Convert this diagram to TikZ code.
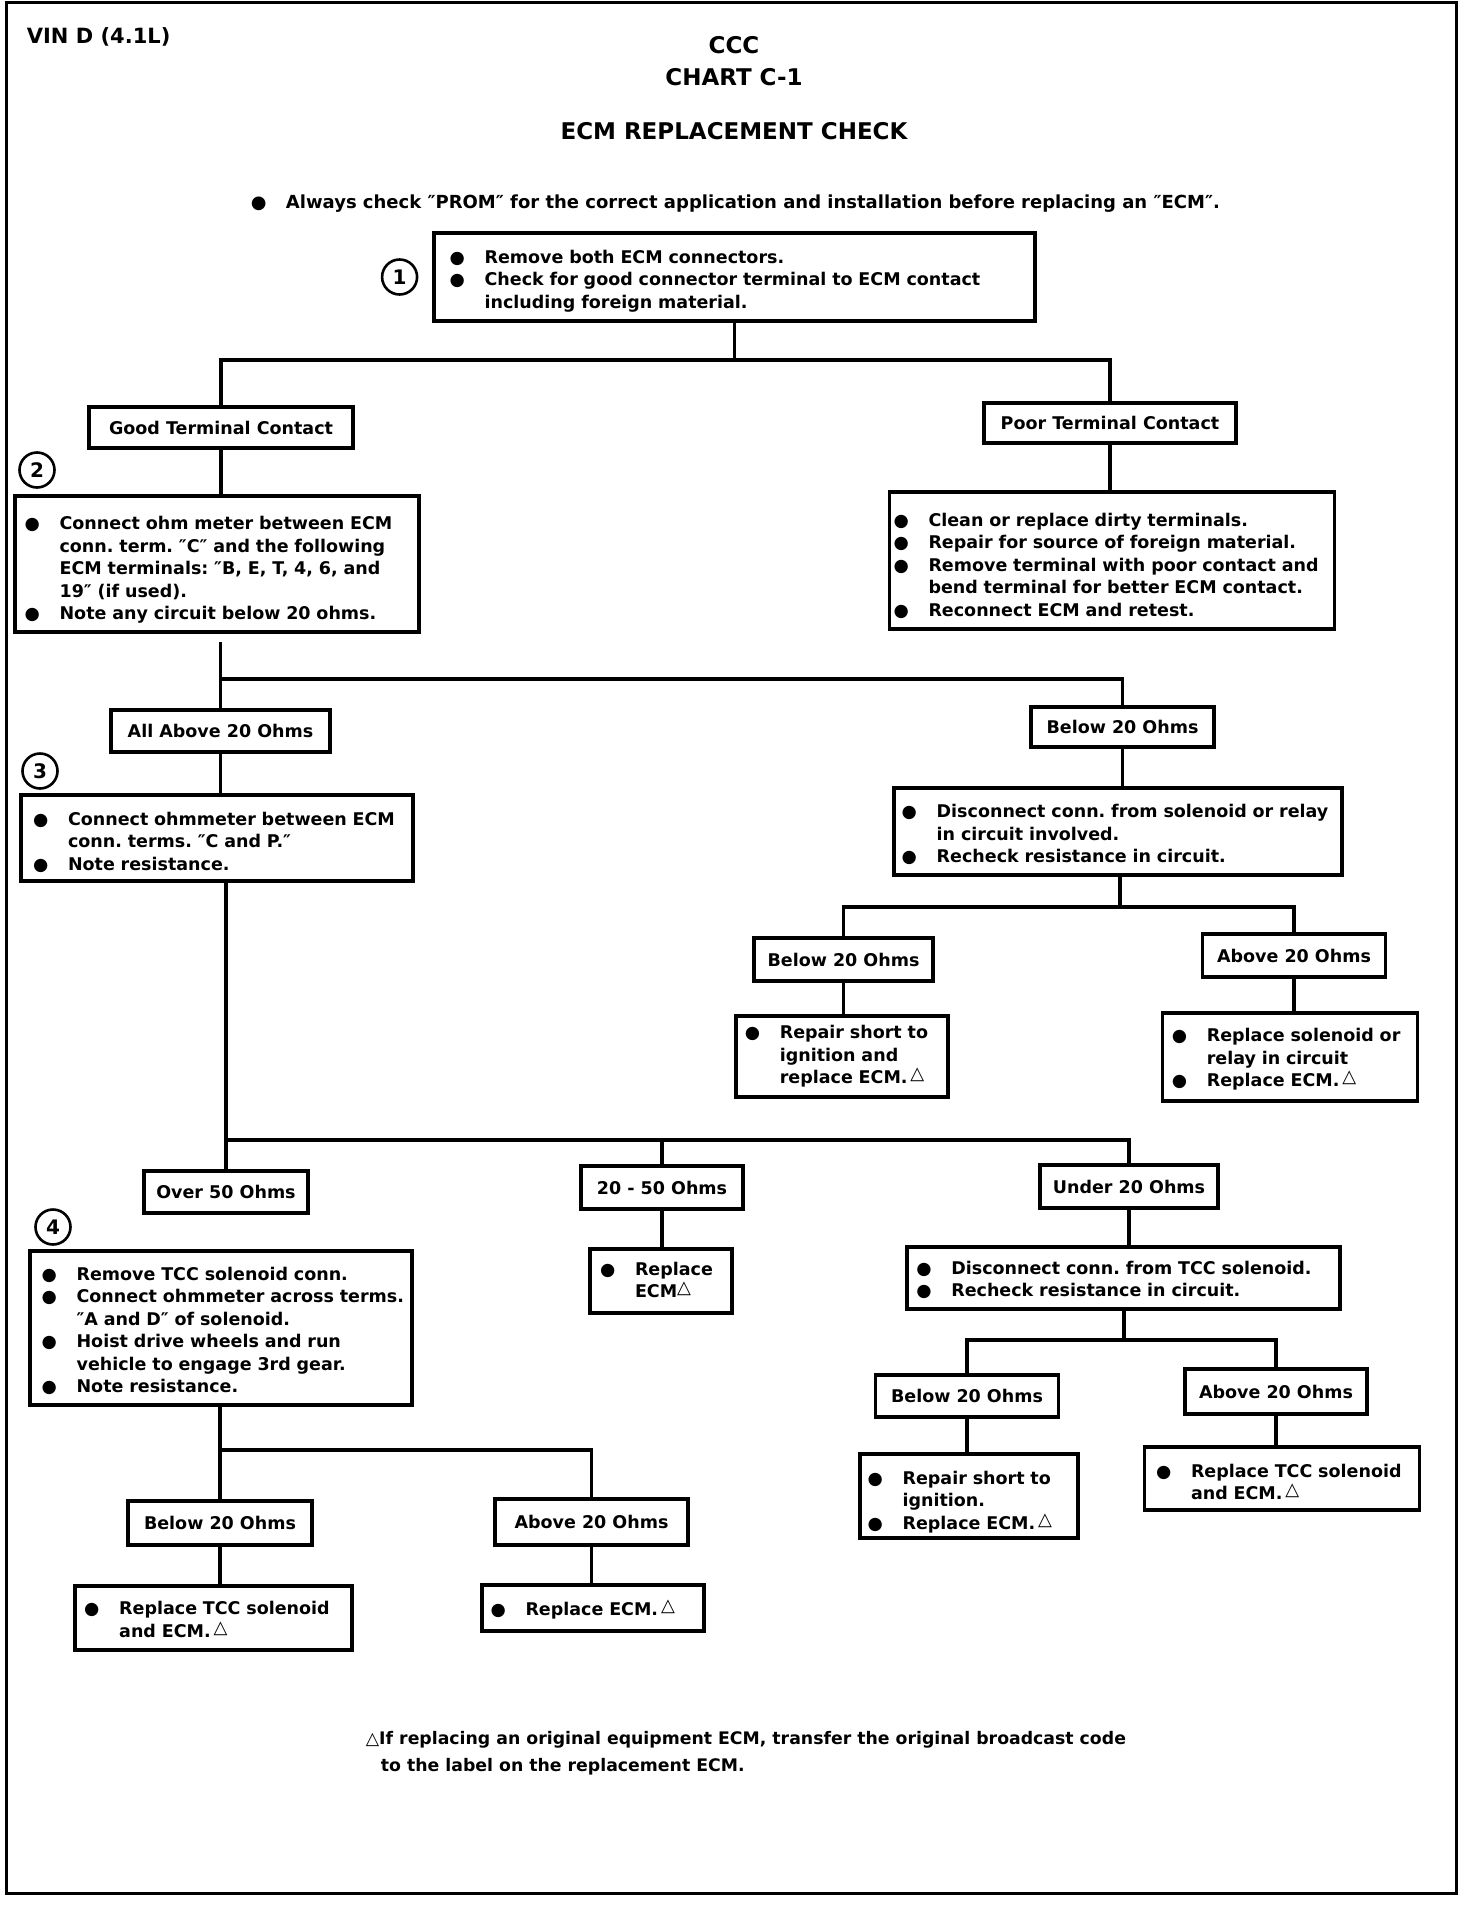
\documentclass[tikz,border=0pt]{standalone}
\usepackage{fontspec}
\setmainfont{DejaVu Sans}
\newfontfamily\symfont{DejaVu Sans}
\usepackage{tikz}
\usetikzlibrary{positioning}

\newcommand\bl{{\symfont ●}}
\newcommand\bul{\makebox[35pt][l]{\bl}}
\newcommand\tri{\raisebox{4pt}{\symfont\fontsize{18}{18}\selectfont △}}
\newcommand\items[2]{\raisebox{-#1pt}[\height][\depth]{\begin{tabular}{@{}l@{}l@{}}#2\end{tabular}}}
\frenchspacing

\begin{document}
\begin{tikzpicture}[x=1pt,y=-1pt,line width=3.2pt,
                    every node/.style={font=\fontsize{17.5}{22.5}\selectfont\bfseries}]

  \tikzstyle{lbl} = [draw, line width=3.2pt, inner sep=0pt]
  \tikzstyle{lst} = [draw, line width=3.2pt, inner ysep=0pt, align=left]
  \tikzstyle{num} = [draw, circle, line width=2.6pt, minimum size=35pt, inner sep=0pt,
                     font=\fontsize{20}{20}\selectfont\bfseries]
  \tikzstyle{head} = [font=\fontsize{23}{23}\selectfont\bfseries]

  \useasboundingbox (0,0) rectangle (1472,1908);
  \draw[line width=3pt] (6,3) rectangle (1456,1893);

  \node[anchor=west, font=\fontsize{21}{21}\selectfont\bfseries] (vin) at (22,37) {VIN D (4.1L)};
  \node[head] (ccc)   at (734,45)  {CCC};
  \node[head] (chart) at (734,77)  {CHART C-1};
  \node[head] (title) at (734,131) {ECM REPLACEMENT CHECK};
  \node[anchor=west, font=\fontsize{18}{22}\selectfont\bfseries] (prom) at (246,204)
    {\makebox[35pt][l]{\bl}Always check ″PROM″ for the correct application and installation before replacing an ″ECM″.};

  \node[lst, minimum height=88pt, text width=569.8pt, inner xsep=15.6pt] (A) at (734.5,277)
    {\items{4}{\bul & Remove both ECM connectors.\\
               \bul & Check for good connector terminal to ECM contact\\
                    & including foreign material.}};
  \node[num] (n1) [left=14pt of A] {1};

  \node[lbl, minimum width=264pt, minimum height=41pt] (B) at (221,427.5)  {Good Terminal Contact};
  \node[lbl, minimum width=252pt, minimum height=40pt] (C) at (1110,423)   {Poor Terminal Contact};

  \node[num] (n2) at (37,470) {2};
  \node[lst, minimum height=136pt, text width=384.8pt, inner xsep=9.6pt] (D) at (217,564)
    {\items{6}{\bul & Connect ohm meter between ECM\\
                    & conn. term. ″C″ and the following\\
                    & ECM terminals: ″B, E, T, 4, 6, and\\
                    & 19″ (if used).\\
               \bul & Note any circuit below 20 ohms.}};
  \node[lst, minimum height=137pt, text width=437pt, inner xsep=4pt] (E) at (1112,560.5)
    {\items{6}{\bul & Clean or replace dirty terminals.\\
               \bul & Repair for source of foreign material.\\
               \bul & Remove terminal with poor contact and\\
                    & bend terminal for better ECM contact.\\
               \bul & Reconnect ECM and retest.}};

  \node[lbl, minimum width=219pt, minimum height=42pt] (F) at (220.5,731)  {All Above 20 Ohms};
  \node[lbl, minimum width=183pt, minimum height=40pt] (G) at (1122.5,727) {Below 20 Ohms};

  \node[num] (n3) at (40,771) {3};
  \node[lst, minimum height=86pt, text width=368pt, inner xsep=12pt] (H) at (217,838)
    {\items{5}{\bul & Connect ohmmeter between ECM\\
                    & conn. terms. ″C and P.″\\
               \bul & Note resistance.}};
  \node[lst, minimum height=87pt, text width=432.6pt, inner xsep=7.7pt] (I) at (1118,831.5)
    {\items{4}{\bul & Disconnect conn. from solenoid or relay\\
                    & in circuit involved.\\
               \bul & Recheck resistance in circuit.}};

  \node[lbl, minimum width=179pt, minimum height=43pt] (J) at (843.5,959.5) {Below 20 Ohms};
  \node[lbl, minimum width=183pt, minimum height=43pt] (K) at (1294,955.5)  {Above 20 Ohms};
  \node[lst, minimum height=81pt, text width=194.4pt, inner xsep=8.8pt] (L) at (842,1056.5)
    {\items{0}{\bul & Repair short to\\
                    & ignition and\\
                    & replace ECM.\,\tri}};
  \node[lst, minimum height=88pt, text width=236.4pt, inner xsep=9.3pt] (M) at (1290,1057)
    {\items{2.5}{\bul & Replace solenoid or\\
                      & relay in circuit\\
                 \bul & Replace ECM.\,\tri}};

  \node[lbl, minimum width=164pt, minimum height=42pt] (N) at (226,1192)    {Over 50 Ohms};
  \node[lbl, minimum width=162pt, minimum height=43pt] (O) at (662,1187.5)  {20 - 50 Ohms};
  \node[lbl, minimum width=178pt, minimum height=43pt] (P) at (1129,1186.5) {Under 20 Ohms};

  \node[num] (n4) at (53,1227) {4};
  \node[lst, minimum height=154pt, text width=358.8pt, inner xsep=11.6pt] (Q) at (221,1328)
    {\items{4}{\bul & Remove TCC solenoid conn.\\
               \bul & Connect ohmmeter across terms.\\
                    & ″A and D″ of solenoid.\\
               \bul & Hoist drive wheels and run\\
                    & vehicle to engage 3rd gear.\\
               \bul & Note resistance.}};
  \node[lst, minimum height=64pt, text width=122pt, inner xsep=10pt] (R) at (661,1281)
    {\items{1}{\bul & Replace\\
                    & ECM\tri}};
  \node[lst, minimum height=62pt, text width=414.4pt, inner xsep=9.3pt] (S) at (1123.5,1278)
    {\items{3}{\bul & Disconnect conn. from TCC solenoid.\\
               \bul & Recheck resistance in circuit.}};

  \node[lbl, minimum width=183pt, minimum height=42pt] (T) at (967,1396)    {Below 20 Ohms};
  \node[lbl, minimum width=182pt, minimum height=45pt] (U) at (1276,1391.5) {Above 20 Ohms};
  \node[lst, minimum height=84pt, text width=202.8pt, inner xsep=7.6pt] (V) at (969,1496)
    {\items{6}{\bul & Repair short to\\
                    & ignition.\\
               \bul & Replace ECM.\,\tri}};
  \node[lst, minimum height=63pt, text width=252pt, inner xsep=11.5pt] (W) at (1282,1478.5)
    {\items{5.5}{\bul & Replace TCC solenoid\\
                      & and ECM.\,\tri}};

  \node[lbl, minimum width=184pt, minimum height=44pt] (X) at (220,1523)   {Below 20 Ohms};
  \node[lbl, minimum width=193pt, minimum height=46pt] (Y) at (591.5,1522) {Above 20 Ohms};
  \node[lst, minimum height=64pt, text width=258.6pt, inner xsep=9.2pt] (Z) at (213.5,1618)
    {\items{3.5}{\bul & Replace TCC solenoid\\
                      & and ECM.\,\tri}};
  \node[lst, minimum height=46pt, text width=205pt, inner xsep=8.5pt] (AA) at (593,1608)
    {\items{2.5}{\bul & Replace ECM.\,\tri}};

  \node[anchor=west, align=left, font=\fontsize{17.3}{27}\selectfont\bfseries] (note) at (361,1753)
    {{\symfont △}If replacing an original equipment ECM, transfer the original broadcast code\\
     \hspace*{15pt}to the label on the replacement ECM.};

  \coordinate (j1) at (734.5,360);
  \coordinate (j2) at (220.5,679);
  \coordinate (j3) at (1120,907);
  \coordinate (j4) at (226,1140);
  \coordinate (j5) at (1124,1340);
  \coordinate (j6) at (220,1450);
  \coordinate (d2) at (220.5,642);

  \draw (A) -- (j1);
  \draw (B) |- (j1) -| (C);
  \draw (F) |- (j2) -| (G);
  \draw (J) |- (j3) -| (K);
  \draw (N) |- (j4) -| (P);
  \draw (T) |- (j5) -| (U);
  \draw (X) |- (j6) -| (Y);

  \path (B.south) edge (B.south |- D.north)
        (C.south) edge (C.south |- E.north)
        (d2)      edge (j2)
        (F.south) edge (F.south |- H.north)
        (G.south) edge (G.south |- I.north)
        (I.south -| j3) edge (j3)
        (J.south) edge (J.south |- L.north)
        (K.south) edge (K.south |- M.north)
        (H.south -| N) edge (N)
        (O) edge (O |- j4)
        (O.south) edge (O.south |- R.north)
        (P.south) edge (P.south |- S.north)
        (S.south -| j5) edge (j5)
        (T.south) edge (T.south |- V.north)
        (U.south) edge (U.south |- W.north)
        (Q.south -| X) edge (X)
        (X.south) edge (X.south |- Z.north)
        (Y.south) edge (Y.south |- AA.north);

\end{tikzpicture}
\end{document}
